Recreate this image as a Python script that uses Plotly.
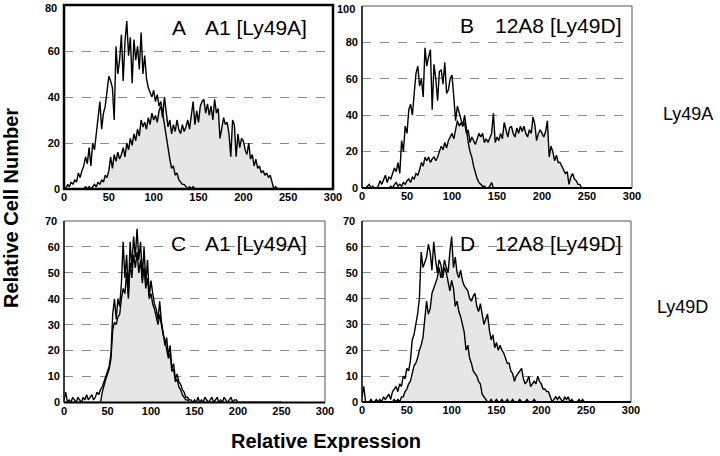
import plotly.graph_objects as go

# bin positions (Relative Expression)
X = list(range(0, 252, 2))

# ---------- Panel A : A1 [Ly49A] ----------
a_open = [1,0,2,1,3,2,4,3,7,5,
          8,10,14,11,18,10,20,17,24,30,
          38,26,33,36,42,49,47,44,30,62,
          50,56,67,47,64,73,58,66,46,65,
          56,62,52,68,50,58,48,44,42,40,
          43,38,41,36,38,33,28,21,16,13,
          9,10,6,7,4,3,2,2,1,0,
          1,0,1,0,0,0,0,0,0,0,
          0,0,0,0,0,0,0,0,0,0,
          0,0,0,0,0,0,0,0,0,0,
          0,0,0,0,0,0,0,0,0,0,
          0,0,0,0,0,0,0,0,0,0,
          0,0,0,0,0,0]
a_fill = [0,0,0,0,0,0,0,0,0,0,
          0,0,1,0,1,0,1,2,1,3,
          2,4,3,6,5,8,14,9,15,12,
          16,13,15,18,14,20,17,22,19,24,
          21,26,23,30,27,29,26,31,28,33,
          30,32,29,34,36,31,40,33,27,30,
          24,28,25,30,26,24,28,25,27,30,
          26,32,38,28,34,29,36,38,39,33,
          37,32,36,30,39,33,35,22,26,31,
          28,29,24,14,30,28,14,24,18,22,
          21,17,15,20,13,15,10,13,9,10,
          7,8,6,7,5,6,3,0,1,0,
          0,0,0,0,0,0]

# ---------- Panel B : 12A8 [Ly49D] ----------
b_open = [0,0,0,1,2,0,1,0,0,1,
          4,2,5,7,3,6,5,8,11,9,
          14,8,26,20,34,30,43,46,40,52,
          63,67,56,60,50,77,67,72,76,43,
          68,60,48,64,65,57,69,52,54,60,
          62,50,37,45,41,38,34,40,32,25,
          20,17,12,8,5,3,2,1,1,0,
          0,1,3,0,0,0,0,0,0,0,
          0,0,0,0,0,0,0,0,0,0,
          0,0,0,0,0,0,0,0,0,0,
          0,0,0,0,0,0,0,0,0,0,
          0,0,0,0,0,0,0,0,0,0,
          0,0,0,0,0,0]
b_fill = [0,0,0,0,0,0,0,0,0,0,
          0,0,0,0,0,0,1,0,2,3,
          1,2,1,3,2,4,5,3,6,5,
          8,7,10,14,12,17,15,17,14,16,
          17,15,17,20,23,21,25,22,26,28,
          30,27,33,37,34,36,34,36,30,32,
          25,28,26,24,27,30,28,30,25,27,
          25,28,30,41,25,28,26,30,27,36,
          31,28,33,34,30,28,33,30,34,31,
          34,30,28,32,30,39,35,26,30,32,
          30,28,31,37,17,23,20,15,18,14,
          14,12,10,8,9,2,6,8,5,4,
          2,2,0,0,0,0]

# ---------- Panel C : A1 [Ly49A] ----------
c_open = [1,4,0,1,0,2,1,0,2,1,
          0,2,1,3,1,2,3,1,2,4,
          3,5,6,8,10,12,14,19,34,40,
          32,40,37,46,62,48,57,42,62,52,
          64,56,67,55,62,48,60,46,55,41,
          47,42,38,36,32,39,31,27,22,25,
          18,22,13,15,9,11,8,7,5,4,
          2,2,1,1,0,1,0,2,0,1,
          0,2,1,0,1,2,0,1,2,0,
          1,0,2,1,0,1,2,0,1,1,
          0,0,0,0,0,0,0,0,0,0,
          0,0,0,0,0,0,0,0,0,0,
          0,0,0,0,0,0]
c_fill = [0,0,0,0,0,0,0,0,0,0,
          0,0,0,0,0,0,0,0,0,0,
          0,0,4,7,9,11,13,17,28,31,
          30,33,34,40,44,42,50,40,54,48,
          57,52,58,50,55,46,52,44,48,40,
          42,38,36,33,30,34,29,26,24,20,
          17,19,12,13,8,9,6,5,3,2,
          1,1,0,0,0,0,0,0,0,0,
          0,0,0,0,0,0,0,0,0,0,
          0,0,0,0,0,0,0,0,0,0,
          0,0,0,0,0,0,0,0,0,0,
          0,0,0,0,0,0,0,0,0,0,
          0,0,0,0,0,0]

# ---------- Panel D : 12A8 [Ly49D] ----------
d_open = [2,6,0,0,0,1,0,0,1,0,
          1,0,2,1,2,3,1,4,5,6,
          4,7,6,10,9,13,12,16,24,26,
          30,34,40,58,52,54,56,61,58,51,
          62,55,50,55,53,48,52,50,46,43,
          47,44,37,39,35,33,30,27,20,22,
          17,15,12,11,10,8,7,3,2,1,
          0,0,1,0,0,1,0,0,1,0,
          0,1,0,0,1,0,0,0,1,0,
          0,0,1,0,0,0,1,0,0,0,
          0,0,0,0,0,0,0,0,0,0,
          0,0,0,0,0,0,0,0,0,0,
          0,0,0,0,0,0]
d_fill = [0,0,0,0,0,0,0,0,0,0,
          0,0,0,0,0,0,0,0,1,0,
          1,0,2,2,4,5,7,8,11,14,
          15,17,20,22,25,31,39,34,36,42,
          44,46,48,52,48,50,55,52,50,58,
          64,52,56,50,48,51,47,45,44,43,
          40,39,41,42,37,35,38,33,30,32,
          34,28,24,26,21,23,20,22,20,19,
          17,15,15,12,11,8,10,11,12,13,
          9,7,8,10,6,7,8,7,10,8,
          7,5,5,4,4,2,0,1,2,1,
          2,1,0,2,1,2,0,1,0,0,
          0,1,0,1,0,0]

x_ticks = [0, 50, 100, 150, 200, 250, 300]
y_max = [80, 100, 70, 70]
y_step = [20, 20, 10, 10]
panel_letters = ["A", "B", "C", "D"]
panel_labels = ["A1 [Ly49A]", "12A8 [Ly49D]", "A1 [Ly49A]", "12A8 [Ly49D]"]
row_labels = ["Ly49A", "Ly49D"]

W, H = 720, 456
def px(x): return x / W
def py(y): return 1 - y / H

# pixel frames of each panel: (left, right, top, bottom)
frames = [(64, 333, 5, 189), (362, 632, 6, 188), (64, 325, 221, 402.5), (362, 631, 221, 402)]

series = [(a_open, a_fill), (b_open, b_fill), (c_open, c_fill), (d_open, d_fill)]

fig = go.Figure()
FONT = "Liberation Sans, Arial, Helvetica, sans-serif"
TICKFONT = dict(family=FONT, size=11, color="black", weight="bold")

annotations = []
for i, (op, fl) in enumerate(series):
    k = "" if i == 0 else str(i + 1)
    fig.add_trace(go.Scatter(x=X, y=fl, mode="lines", fill="tozeroy",
                             fillcolor="#e6e6e6", line=dict(color="black", width=1.4),
                             xaxis="x" + k, yaxis="y" + k, showlegend=False, hoverinfo="skip"))
    fig.add_trace(go.Scatter(x=X, y=op, mode="lines",
                             line=dict(color="black", width=1.4),
                             xaxis="x" + k, yaxis="y" + k, showlegend=False, hoverinfo="skip"))
    l, r, t, b = frames[i]
    xa = dict(domain=[px(l), px(r)], range=[0, 300], tickvals=x_ticks,
              showgrid=False, zeroline=False, showline=False,
              tickfont=TICKFONT, anchor="y" + k, fixedrange=True, automargin=False)
    yvals = list(range(0, y_max[i] + 1, y_step[i]))
    ya = dict(domain=[py(b), py(t)], range=[0, y_max[i]],
              tickvals=yvals[:-1], ticklabelstandoff=3,
              showgrid=True, gridcolor="#8a8a8a", griddash="dash", gridwidth=1,
              zeroline=False, showline=False,
              tickfont=TICKFONT, anchor="x" + k, fixedrange=True, automargin=False)
    fig.update_layout(**{"xaxis" + k: xa, "yaxis" + k: ya})
    # top tick label drawn as text so that it is not clipped at the page edge
    annotations.append(dict(x=0, y=y_max[i], xref="x%s domain" % k, yref="y" + k,
                            text=str(y_max[i]), showarrow=False, xanchor="right", yanchor="middle",
                            xshift=-5, yshift=(-3 if i < 2 else 0), font=TICKFONT))
    # frame
    if i == 0:
        fig.add_shape(type="rect", xref="x domain", yref="y domain", x0=0, x1=1, y0=0, y1=1,
                      line=dict(color="black", width=2.5), layer="above")
    else:
        fig.add_shape(type="rect", xref="x%s domain" % k, yref="y%s domain" % k,
                      x0=0, x1=1, y0=0, y1=1, line=dict(color="#555", width=1), layer="above")
        fig.add_shape(type="line", xref="x%s domain" % k, yref="y%s domain" % k,
                      x0=0, x1=1, y0=0, y1=0, line=dict(color="black", width=2), layer="above")
        fig.add_shape(type="line", xref="x%s domain" % k, yref="y%s domain" % k,
                      x0=0, x1=0, y0=0, y1=1, line=dict(color="black", width=1.3), layer="above")

# panel letters and labels (pixel positions)
letter_pos = [(178.5, 28), (466.5, 25), (178, 243), (467, 243)]
label_left = [203, 493, 203, 493]
for i in range(4):
    lx, ly = letter_pos[i]
    annotations.append(dict(x=px(lx), y=py(ly), xref="paper", yref="paper", text=panel_letters[i],
                            showarrow=False, xanchor="center", yanchor="middle",
                            font=dict(family=FONT, size=21, color="black")))
    annotations.append(dict(x=px(label_left[i]), y=py(ly), xref="paper", yref="paper",
                            text=panel_labels[i], showarrow=False, xanchor="left", yanchor="middle",
                            font=dict(family=FONT, size=21, color="black")))
annotations.append(dict(x=px(688), y=py(114), xref="paper", yref="paper", text=row_labels[0],
                        showarrow=False, xanchor="center", yanchor="middle",
                        font=dict(family=FONT, size=18, color="black")))
annotations.append(dict(x=px(682), y=py(307), xref="paper", yref="paper", text=row_labels[1],
                        showarrow=False, xanchor="center", yanchor="middle",
                        font=dict(family=FONT, size=18, color="black")))
annotations.append(dict(x=px(11), y=py(208), xref="paper", yref="paper", text="Relative Cell Number",
                        showarrow=False, xanchor="center", yanchor="middle", textangle=-90,
                        font=dict(family=FONT, size=20, color="black", weight="bold")))
annotations.append(dict(x=px(326), y=py(441), xref="paper", yref="paper", text="Relative Expression",
                        showarrow=False, xanchor="center", yanchor="middle",
                        font=dict(family=FONT, size=20, color="black", weight="bold")))

fig.update_layout(width=W, height=H, margin=dict(l=0, r=0, t=0, b=0, pad=0),
                  paper_bgcolor="white", plot_bgcolor="white",
                  annotations=annotations, showlegend=False)

fig.write_html("out.html", config={"responsive": False, "displayModeBar": False},
               post_script="document.body.style.margin='0';document.body.style.padding='0';"
                           "document.body.style.overflow='hidden';")
